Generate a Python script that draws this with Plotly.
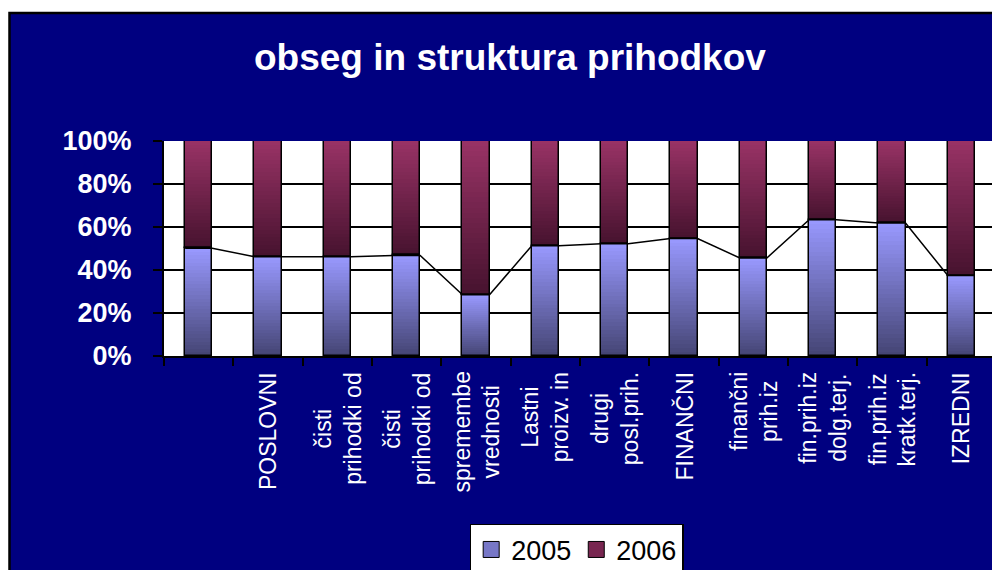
import plotly.graph_objects as go

# ---- data ----
categories = ["", "POSLOVNI", "čisti<br>prihodki od", "čisti<br>prihodki od",
              "spremembe<br>vrednosti", "Lastni<br>proizv. in", "drugi<br>posl.prih.",
              "FINANČNI", "finančni<br>prih.iz", "fin.prih.iz<br>dolg.terj.",
              "fin.prih.iz<br>kratk.terj.", "IZREDNI"]
values_2005 = [50.1, 46.2, 46.2, 46.8, 28.5, 51.3, 52.2, 54.6, 45.6, 63.4, 61.9, 37.4]
values_2006 = [49.9, 53.8, 53.8, 53.2, 71.5, 48.7, 47.8, 45.4, 54.4, 36.6, 38.1, 62.6]
series_names = ["2005", "2006"]
y_ticks = [0, 20, 40, 60, 80, 100]
y_tick_labels = ["0%", "20%", "40%", "60%", "80%", "100%"]

# ---- style ----
FONT = "Liberation Sans, Arial, sans-serif"
NAVY = "#000080"
grad_2005 = ((68, 68, 115), (153, 153, 255))   # bottom, top
grad_2006 = ((70, 18, 46), (153, 51, 102))
N = 30
BAR_W = 0.39

xs = list(range(len(categories)))
totals = [a + b for a, b in zip(values_2005, values_2006)]
share_2005 = [a / t * 100 for a, t in zip(values_2005, totals)]
share_2006 = [b / t * 100 for b, t in zip(values_2006, totals)]


def mix(c0, c1, t):
    return "rgb(%d,%d,%d)" % tuple(round(a + (b - a) * t) for a, b in zip(c0, c1))


fig = go.Figure()

# gradient slices for each stacked segment
for bases, heights, grad in [
    ([0] * len(xs), share_2005, grad_2005),
    (share_2005, share_2006, grad_2006),
]:
    for k in range(N):
        fig.add_trace(go.Bar(
            x=xs, y=[h / N for h in heights],
            base=[b + h * k / N for b, h in zip(bases, heights)],
            width=BAR_W, marker=dict(color=mix(grad[0], grad[1], (k + 0.5) / N), line=dict(width=0)),
            showlegend=False, hoverinfo="skip"))

# outlines
fig.add_trace(go.Bar(x=xs, y=share_2005, base=[0] * len(xs), width=BAR_W,
                     marker=dict(color="rgba(0,0,0,0)", line=dict(color="black", width=1.5)),
                     showlegend=False, name="2005"))
fig.add_trace(go.Bar(x=xs, y=share_2006, base=share_2005, width=BAR_W,
                     marker=dict(color="rgba(0,0,0,0)", line=dict(color="black", width=1.5)),
                     showlegend=False, name="2006"))

# series lines linking the tops of the 2005 segments
lx, ly = [], []
for x, v in zip(xs, share_2005):
    lx += [x - BAR_W / 2, x + BAR_W / 2]
    ly += [v, v]
fig.add_trace(go.Scatter(x=lx, y=ly, mode="lines", line=dict(color="black", width=1.5),
                         showlegend=False, hoverinfo="skip"))

# legend entries
for name, grad in zip(series_names, [grad_2005, grad_2006]):
    fig.add_trace(go.Scatter(x=[None], y=[None], mode="markers", name=name,
                             marker=dict(symbol="square", size=16, color=mix(grad[0], grad[1], 0.6),
                                         line=dict(color="black", width=1))))

# category labels
for x, lab in zip(xs, categories):
    if lab:
        fig.add_annotation(x=x, y=0, xref="x", yref="y", text=lab, showarrow=False,
                           textangle=-90, xanchor="center", yanchor="top", yshift=-14,
                           align="center", font=dict(family=FONT, size=23, color="white"))

# frame and white plot area
fig.add_shape(type="rect", xref="paper", yref="paper", x0=-0.1857, x1=1.01, y0=-1.05, y1=1.595,
              fillcolor=NAVY, line=dict(color="black", width=2.5), layer="below")
fig.add_shape(type="rect", xref="paper", yref="paper", x0=0, x1=1, y0=0, y1=1,
              fillcolor="white", line=dict(width=0), layer="below")
fig.add_shape(type="line", xref="paper", yref="paper", x0=1, x1=1, y0=0, y1=1,
              line=dict(color="#808080", width=2))

fig.update_layout(
    width=992, height=562,
    margin=dict(l=156, r=4, t=133, b=214),
    paper_bgcolor="white", plot_bgcolor="white",
    barmode="overlay", bargap=0,
    title=dict(text="obseg in struktura prihodkov", x=0.506, xanchor="center",
               y=0.913, yanchor="middle", xref="container", yref="container",
               font=dict(family=FONT, size=37, color="white", weight="bold")),
    showlegend=True,
    legend=dict(orientation="h", x=0.496, xanchor="center", y=0.082, yanchor="top",
                yref="container", bgcolor="white", bordercolor="black", borderwidth=1.5,
                font=dict(family=FONT, size=27, color="black")),
    font=dict(family=FONT),
)
fig.update_xaxes(range=[-0.5, len(xs) - 0.5], tickvals=[i - 0.5 for i in range(len(xs) + 1)],
                 showticklabels=False, ticks="outside", ticklen=8, tickcolor="black", tickwidth=2,
                 showgrid=False, showline=True, linecolor="black", linewidth=2, zeroline=False)
fig.update_yaxes(range=[0, 100], tickvals=y_ticks, ticktext=y_tick_labels, ticks="outside", ticklen=9,
                 tickcolor="black", tickwidth=2, ticklabelstandoff=16,
                 tickfont=dict(family=FONT, size=27, color="white", weight="bold"),
                 showgrid=True, gridcolor="black", gridwidth=1.5, showline=True,
                 linecolor="black", linewidth=2, zeroline=False)

fig.write_html("out.html")
